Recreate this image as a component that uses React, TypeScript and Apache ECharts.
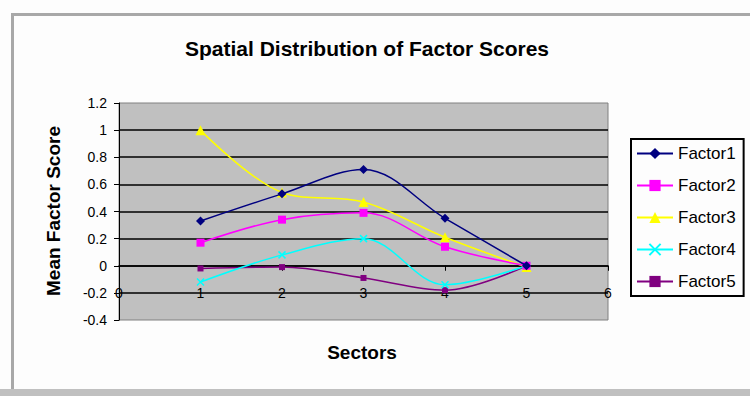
import React, { useEffect, useRef } from "react";
import * as echarts from "echarts";

// Sector numbers on the horizontal axis
const sectors = [1, 2, 3, 4, 5];

// Mean factor score per sector
const factor1 = [0.33, 0.53, 0.71, 0.35, 0.0];
const factor2 = [0.17, 0.34, 0.39, 0.14, 0.0];
const factor3 = [1.0, 0.54, 0.47, 0.21, -0.01];
const factor4 = [-0.12, 0.08, 0.2, -0.14, 0.0];
const factor5 = [-0.02, -0.01, -0.09, -0.18, 0.0];

const seriesNames = ["Factor1", "Factor2", "Factor3", "Factor4", "Factor5"];
const seriesColors = ["#000080", "#FF00FF", "#FFFF00", "#00FFFF", "#800080"];
const seriesSymbols = [
  "diamond",
  "rect",
  "triangle",
  "path://M0,0L10,10M10,0L0,10",
  "rect",
];
const seriesSymbolSizes = [9, 8, 10, 7, 6];

const FONT = "Liberation Sans, Arial, sans-serif";

// plot rectangle
const GRID_TOP = 103;
const GRID_HEIGHT = 217;
const Y_MIN = -0.4;
const Y_MAX = 1.2;

export default function App() {
  const ref = useRef<HTMLDivElement>(null);

  useEffect(() => {
    if (!ref.current) return;
    const chart = echarts.init(ref.current, undefined, { renderer: "svg" });
    const allValues = [factor1, factor2, factor3, factor4, factor5];

    // horizontal axis crosses the vertical one at 0
    const zeroOffset = (-Y_MIN / (Y_MAX - Y_MIN)) * GRID_HEIGHT;

    chart.setOption({
      animation: false,
      backgroundColor: "#fdfdfd",
      title: {
        text: "Spatial Distribution of Factor Scores",
        left: 362,
        top: 33,
        textAlign: "center",
        textStyle: { fontFamily: FONT, fontSize: 21, fontWeight: "bold", color: "#000" },
      },
      legend: {
        orient: "vertical",
        left: 631,
        top: 139,
        itemWidth: 36,
        itemHeight: 14,
        itemGap: 15,
        padding: [6, 8, 6, 5],
        borderColor: "#000",
        borderWidth: 2,
        backgroundColor: "#fdfdfd",
        textStyle: { fontFamily: FONT, fontSize: 17, color: "#000" },
        data: seriesNames,
      },
      grid: {
        left: 119,
        top: GRID_TOP,
        width: 489,
        height: GRID_HEIGHT,
        show: true,
        backgroundColor: "#c0c0c0",
        borderColor: "#808080",
        borderWidth: 1,
      },
      xAxis: {
        type: "value",
        min: 0,
        max: 6,
        interval: 1,
        offset: -zeroOffset,
        axisLine: { onZero: false, lineStyle: { color: "#000", width: 1.5 } },
        axisTick: { show: true, length: 5, lineStyle: { color: "#000" } },
        axisLabel: { fontFamily: FONT, fontSize: 14, color: "#000", margin: 20 },
        splitLine: { show: false },
      },
      yAxis: {
        type: "value",
        min: Y_MIN,
        max: Y_MAX,
        interval: 0.2,
        axisLine: { show: true, onZero: false, lineStyle: { color: "#000", width: 1 } },
        axisTick: { show: true, length: 5, lineStyle: { color: "#000" } },
        axisLabel: {
          fontFamily: FONT,
          fontSize: 14,
          color: "#000",
          margin: 12,
          formatter: (v: number) => String(Math.round(v * 10) / 10),
        },
        splitLine: {
          show: true,
          showMinLine: false,
          showMaxLine: false,
          lineStyle: { color: "#000", width: 1.5 },
        },
      },
      series: seriesNames.map((name, i) => ({
        name,
        type: "line",
        smooth: 0.35,
        data: sectors.map((s, j) => [s, allValues[i][j]]),
        symbol: seriesSymbols[i],
        symbolSize: seriesSymbolSizes[i],
        lineStyle: { color: seriesColors[i], width: 1.5 },
        itemStyle: {
          color: seriesColors[i],
          borderColor: seriesColors[i],
          borderWidth: i === 3 ? 1.5 : 0,
        },
        z: 10 - i,
      })),
      graphic: [
        // window frame of the embedded chart
        { type: "rect", shape: { x: 11, y: 13, width: 739, height: 3 }, style: { fill: "#a8a8a8" }, silent: true },
        { type: "rect", shape: { x: 11, y: 13, width: 3, height: 376 }, style: { fill: "#a8a8a8" }, silent: true },
        { type: "rect", shape: { x: 0, y: 389, width: 750, height: 7 }, style: { fill: "#c0c0c0" }, silent: true },
        {
          type: "text",
          x: 53,
          y: 211,
          rotation: Math.PI / 2,
          style: {
            text: "Mean Factor Score",
            fontFamily: FONT,
            fontSize: 19,
            fontWeight: "bold",
            fill: "#000",
            align: "center",
            verticalAlign: "middle",
          },
        },
        {
          type: "text",
          x: 362,
          y: 352,
          style: {
            text: "Sectors",
            fontFamily: FONT,
            fontSize: 19,
            fontWeight: "bold",
            fill: "#000",
            align: "center",
            verticalAlign: "middle",
          },
        },
      ],
    });

    return () => chart.dispose();
  }, []);

  return (
    <div
      ref={ref}
      style={{ position: "absolute", left: 0, top: 0, width: 750, height: 396 }}
    />
  );
}
